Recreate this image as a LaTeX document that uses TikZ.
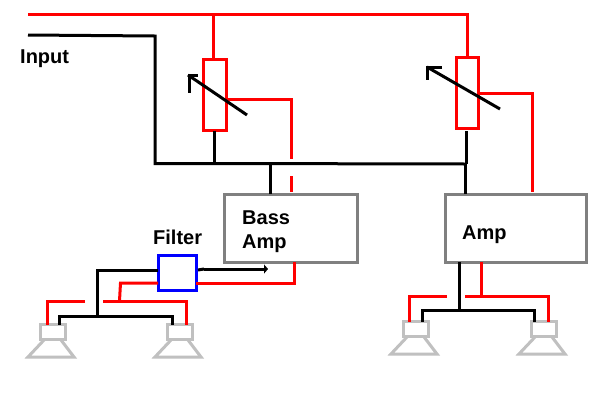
\documentclass[tikz,border=0pt]{standalone}
\usepackage{fontspec}
\setmainfont{Liberation Sans}
\usetikzlibrary{arrows.meta}
\definecolor{boxgray}{HTML}{808080}
\definecolor{spkgray}{HTML}{C0C0C0}
\definecolor{wirered}{HTML}{FF0000}
\definecolor{filterblue}{HTML}{0000FF}
\tikzset{
  wireK/.style={draw=black,line width=3pt},
  wireR/.style={draw=wirered,line width=3pt},
  ampbox/.style={draw=boxgray,line width=3pt,inner sep=0pt,outer sep=0pt,fill=white},
  potbox/.style={draw=wirered,line width=3pt,inner sep=0pt,outer sep=0pt,minimum height=71pt},
  filterbox/.style={draw=filterblue,line width=3pt,inner sep=0pt,outer sep=0pt,minimum width=38pt,minimum height=35pt},
  spkhead/.style={draw=spkgray,line width=3pt,inner sep=0pt,outer sep=0pt,minimum width=25pt,minimum height=15pt},
  label/.style={font=\fontsize{20}{24}\selectfont\bfseries,inner sep=0pt,anchor=base west,align=left},
  cone/.pic={\draw[draw=spkgray,line width=3pt,line join=miter] (-8.5,8)--(-24.5,25)--(21.5,25)--(8.5,8);}
}
\begin{document}
\begin{tikzpicture}[x=1pt,y=-1pt]
\useasboundingbox (0,0) rectangle (600,400);
\fill[white] (0,0) rectangle (600,400);
% boxes
\node[potbox,minimum width=23pt] (pot1) at (214.5,95) {};
\node[potbox,minimum width=22pt] (pot2) at (467,92.5) {};
\node[ampbox,minimum width=133pt,minimum height=68pt] (bass) at (290.5,228) {};
\node[ampbox,minimum width=141pt,minimum height=68pt] (amp) at (515.5,228) {};
\node[filterbox] (filter) at (177,272.5) {};
\node[spkhead] (spk1) at (52.5,332) {};
\node[spkhead] (spk2) at (179.5,332) {};
\node[spkhead] (spk3) at (415.5,329) {};
\node[spkhead] (spk4) at (543.5,329) {};
\pic at (spk1.center) {cone};
\pic at (spk2.center) {cone};
\pic at (spk3.center) {cone};
\pic at (spk4.center) {cone};
% labels
\node[label] (tinput) at (20,63) {Input};
\node[label] (tbass) at (242,248) {Bass\\Amp};
\node[label] (tamp) at (462,239) {Amp};
\node[label] (tfilter) at (153,244) {Filter};
% free points
\coordinate (redStart) at (28,14.5);
\coordinate (redCorner) at (467,14.5);
\coordinate (redTap) at (213,14.5);
\coordinate (inStart) at (28,35);
\coordinate (inCorner) at (155,36);
\coordinate (busL) at (155,163.5);
\coordinate (busJ1) at (214.5,163.5);
\coordinate (busJ2) at (270,164);
\coordinate (busR) at (466.5,164);
\coordinate (busD) at (465.5,164);
\coordinate (r1a) at (226,99);
\coordinate (r1b) at (291,99);
\coordinate (r1c) at (291,159);
\coordinate (r1d) at (291,176);
\coordinate (r1e) at (291,192);
\coordinate (r2a) at (478,93);
\coordinate (r2b) at (532.5,93);
\coordinate (r2c) at (532.5,192);
% pot 1 and pot 2 wires
\draw[wireR] (redStart) -- (redCorner) -- (pot2.north);
\draw[wireR] (redTap) -- (redTap |- pot1.north);
\draw[wireK] (pot1.south) -- (busJ1);
\draw[wireK] (inStart) -- (inCorner) -- (busL) -- (busJ1) -- (busR);
\draw[wireK] (466.5,131) -- (busR);
\draw[wireK] (busD) -- (busD |- amp.north);
\draw[wireK] (busJ2) -- (busJ2 |- bass.north);
\draw[wireR] (r1a) -- (r1b) -- (r1c);
\draw[wireR] (r1d) -- (r1e);
\draw[wireR] (r2a) -- (r2b) -- (r2c);
% variable arrows
\coordinate (a1tail) at (247,115);
\coordinate (a1tip) at (188,75);
\draw[wireK] (a1tail) -- (a1tip);
\draw[wireK] (197.5,75.5) -- (187.5,75.5);
\draw[wireK] (189,75) -- (189,93);
\coordinate (a2tail) at (500,109);
\coordinate (a2tip) at (427,67);
\draw[wireK] (a2tail) -- (a2tip);
\draw[wireK] (442,67.5) -- (426,67.5);
\draw[wireK] (427.5,67) -- (427.5,80);
% filter section
\coordinate (fb1) at (97,270);
\coordinate (fb2) at (97,316);
\coordinate (busS1) at (59.5,316);
\coordinate (busS2) at (172,316);
\draw[wireK] (filter.west |- fb1) -- (fb1) -- (fb2);
\draw[wireK] (busS1 |- spk1.north) -- (busS1) -- (busS2) -- (busS2 |- spk2.north);
\coordinate (fa) at (198,270);
\coordinate (fb) at (204,269);
\coordinate (fc) at (268,269);
\draw[wireK] (fa) -- (fb);
\draw[wireK,-{Triangle[width=9pt,length=4pt]}] (fb) -- (fc);
\coordinate (fr1) at (294.5,283);
\draw[wireR] (filter.east |- fr1) -- (fr1) -- (fr1 |- bass.south);
\coordinate (fr2) at (120.5,283);
\coordinate (fr3) at (119.5,301);
\draw[wireR] (filter.west |- fr2) -- (fr2) -- (fr3);
\coordinate (sr1) at (103,301);
\coordinate (sr2) at (186,301);
\draw[wireR] (sr1) -- (sr2) -- (sr2 |- spk2.north);
\coordinate (sl1) at (85,301);
\coordinate (sl2) at (47.5,301);
\draw[wireR] (sl1) -- (sl2) -- (sl2 |- spk1.north);
% amp section
\coordinate (ak) at (459.5,310);
\coordinate (akL) at (422,310);
\coordinate (akR) at (534.5,310);
\draw[wireK] (ak |- amp.south) -- (ak);
\draw[wireK] (akL |- spk3.north) -- (akL) -- (akR) -- (akR |- spk4.north);
\coordinate (ar) at (481.5,296);
\draw[wireR] (ar |- amp.south) -- (ar);
\coordinate (ar1) at (465,296);
\coordinate (ar2) at (548.5,296);
\draw[wireR] (ar1) -- (ar2) -- (ar2 |- spk4.north);
\coordinate (al1) at (447,296);
\coordinate (al2) at (409.5,296);
\draw[wireR] (al1) -- (al2) -- (al2 |- spk3.north);
\end{tikzpicture}
\end{document}
